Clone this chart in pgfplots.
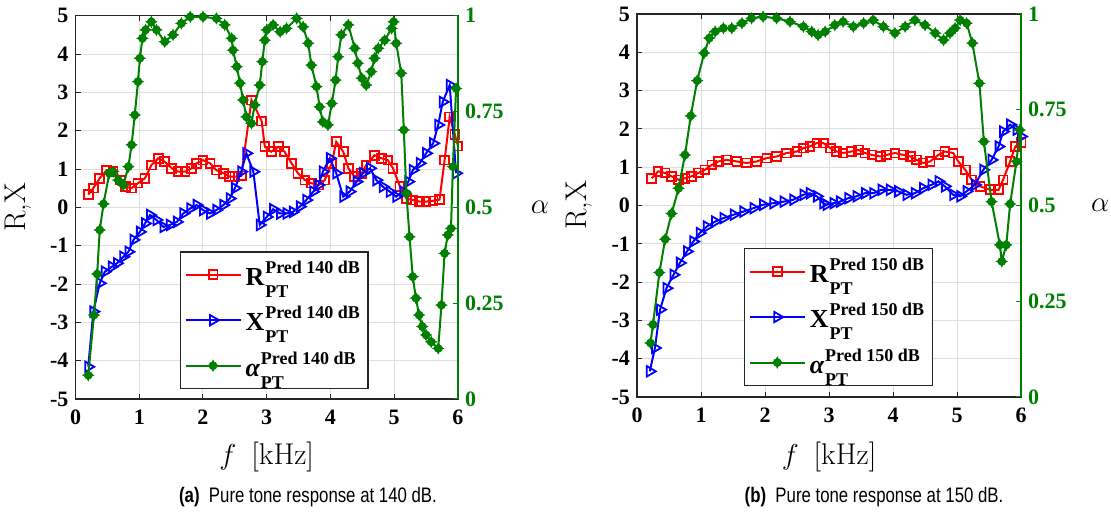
\documentclass[border=0pt]{standalone}
\usepackage{pgfplots}
\usepackage{pgfplotstable}
\pgfplotsset{compat=1.18}
\usepackage{fontspec}
\newfontfamily\tickfont{Liberation Serif}
\newfontfamily\legfont{Liberation Serif}
\newfontfamily\capfont[FakeStretch=0.8]{Liberation Sans}
\definecolor{mgreen}{RGB}{0,128,0}
\definecolor{axgray}{RGB}{38,38,38}
\definecolor{gridgray}{RGB}{222,222,222}

\pgfdeclareplotmark{dstar}{%
  \pgfpathcircle{\pgfpointorigin}{0.72\pgfplotmarksize}%
  \pgfusepathqfillstroke
  \pgfpathmoveto{\pgfqpoint{0pt}{\pgfplotmarksize}}%
  \pgfpathlineto{\pgfqpoint{0.45\pgfplotmarksize}{0pt}}%
  \pgfpathlineto{\pgfqpoint{0pt}{-\pgfplotmarksize}}%
  \pgfpathlineto{\pgfqpoint{-0.45\pgfplotmarksize}{0pt}}%
  \pgfpathclose
  \pgfusepathqfillstroke
  \pgfpathmoveto{\pgfqpoint{\pgfplotmarksize}{0pt}}%
  \pgfpathlineto{\pgfqpoint{0pt}{-0.45\pgfplotmarksize}}%
  \pgfpathlineto{\pgfqpoint{-\pgfplotmarksize}{0pt}}%
  \pgfpathlineto{\pgfqpoint{0pt}{0.45\pgfplotmarksize}}%
  \pgfpathclose
  \pgfusepathqfillstroke
}

\newcommand{\legtxt}[2]{{\fontsize{13}{15}\selectfont {#1}\kern0.5pt\raisebox{-6pt}{\rlap{\fontsize{9}{9}\selectfont PT}}\raisebox{6pt}{\fontsize{9}{9}\selectfont Pred #2 dB}}}
\newcommand{\labfont}{\fontsize{15}{15}\selectfont}

\pgfplotsset{
  Rsty/.style={red, line width=1pt, mark=square, mark size=2.2pt, mark options={solid, line width=0.9pt}},
  Xsty/.style={blue, line width=1pt, mark=triangle, mark size=3pt, mark options={solid, rotate=-90, line width=0.9pt}},
  Asty/.style={mgreen, line width=1pt, mark=dstar, mark size=2.8pt, mark options={solid, line width=0.3pt}},
  common/.style={scale only axis, anchor=south west, xmin=0, xmax=6, clip mode=individual,
    tick label style={font=\tickfont\bfseries\fontsize{11}{11}\selectfont},
    major tick length=2.5pt},
  leftax/.style={common, ymin=-5, ymax=5,
    xtick={0,1,2,3,4,5,6}, xticklabels={0,1,2,3,4,5,6},
    ytick={-5,-4,-3,-2,-1,0,1,2,3,4,5},
    yticklabels={-5,-4,-3,-2,-1,0,1,2,3,4,5},
    ytick pos=left, xtick pos=both,
    xticklabel style={yshift=-2pt},
    grid=major, grid style={gridgray, line width=0.5pt},
    axis line style={axgray, line width=0.6pt},
    tick style={axgray, line width=0.5pt}},
  rightax/.style={common, ymin=0, ymax=1,
    axis y line*=right, axis x line=none,
    ytick={0,0.25,0.5,0.75,1}, yticklabels={0,0.25,0.5,0.75,1},
    y axis line style={mgreen, line width=0.6pt},
    ytick style={mgreen, line width=0.5pt},
    yticklabel style={text=mgreen},
    legend image code/.code={\draw[mark repeat=2,mark phase=2] plot coordinates {(0pt,0pt) (13.75pt,0pt) (27.5pt,0pt)};},
    legend cell align=left,
    legend style={draw=axgray, line width=0.6pt, fill=white, font=\legfont\bfseries,
      inner xsep=2pt, inner ysep=2.5pt, row sep=5pt}},
}

% ---------- data, panel (a) 140 dB ----------
\pgfplotstableread{
f v
0.20 0.33
0.28 0.50
0.38 0.76
0.49 0.97
0.59 0.93
0.70 0.71
0.78 0.54
0.88 0.50
0.98 0.63
1.09 0.76
1.19 1.10
1.30 1.28
1.40 1.19
1.51 1.02
1.61 0.93
1.72 0.93
1.82 1.02
1.90 1.15
2.00 1.23
2.11 1.15
2.21 0.97
2.32 0.89
2.42 0.80
2.50 0.80
2.60 0.82
2.76 2.80
2.92 2.25
2.97 1.58
3.07 1.45
3.18 1.58
3.28 1.45
3.39 1.15
3.49 0.89
3.60 0.71
3.70 0.63
3.81 0.58
3.91 0.71
4.02 1.15
4.09 1.71
4.20 1.45
4.28 1.02
4.38 0.80
4.49 0.89
4.56 1.10
4.69 1.36
4.80 1.28
4.90 1.23
4.98 1.02
5.09 0.54
5.19 0.23
5.29 0.19
5.40 0.15
5.50 0.15
5.61 0.17
5.71 0.20
5.79 1.23
5.87 2.36
5.95 1.90
6.00 1.60
}\tRa

\pgfplotstableread{
f v
0.20 -4.16
0.28 -2.72
0.38 -1.98
0.46 -1.68
0.57 -1.55
0.65 -1.46
0.75 -1.29
0.83 -1.16
0.91 -0.85
1.01 -0.64
1.09 -0.42
1.17 -0.20
1.27 -0.33
1.38 -0.51
1.48 -0.46
1.59 -0.38
1.69 -0.16
1.80 -0.03
1.90 0.06
2.00 -0.07
2.11 -0.16
2.21 -0.07
2.32 0.06
2.42 0.23
2.50 0.50
2.60 0.93
2.68 1.41
2.79 0.93
2.89 -0.46
3.00 -0.25
3.10 -0.05
3.21 -0.16
3.31 -0.16
3.41 -0.12
3.52 0.02
3.62 0.19
3.73 0.41
3.81 0.58
3.88 0.93
3.99 1.28
4.09 0.89
4.20 0.28
4.30 0.41
4.41 0.67
4.51 0.89
4.62 1.02
4.72 0.71
4.82 0.54
4.93 0.41
5.03 0.28
5.14 0.41
5.22 0.67
5.29 0.97
5.40 1.15
5.50 1.41
5.61 1.67
5.69 2.15
5.76 2.75
5.87 3.19
5.97 0.89
}\tXa

\pgfplotstableread{
f v
0.20 0.062
0.29 0.219
0.34 0.326
0.38 0.441
0.44 0.509
0.53 0.589
0.59 0.593
0.67 0.571
0.75 0.558
0.83 0.606
0.88 0.663
0.93 0.741
0.98 0.828
1.01 0.889
1.05 0.941
1.10 0.963
1.19 0.984
1.27 0.963
1.40 0.932
1.53 0.950
1.66 0.980
1.80 0.997
2.00 0.997
2.21 0.993
2.34 0.976
2.45 0.941
2.47 0.910
2.53 0.867
2.58 0.824
2.63 0.780
2.68 0.736
2.76 0.719
2.81 0.767
2.89 0.819
2.93 0.880
2.97 0.936
3.00 0.963
3.10 0.976
3.21 0.958
3.31 0.967
3.47 0.993
3.57 0.971
3.65 0.928
3.70 0.871
3.78 0.815
3.83 0.762
3.88 0.723
3.96 0.715
4.02 0.771
4.08 0.832
4.12 0.893
4.17 0.950
4.28 0.976
4.38 0.915
4.43 0.876
4.49 0.837
4.56 0.819
4.64 0.854
4.69 0.889
4.75 0.915
4.85 0.936
4.96 0.967
4.99 0.984
5.03 0.928
5.11 0.850
5.15 0.702
5.19 0.537
5.24 0.423
5.29 0.319
5.34 0.263
5.39 0.219
5.44 0.189
5.50 0.167
5.58 0.149
5.69 0.132
5.74 0.245
5.79 0.380
5.84 0.428
5.89 0.445
5.92 0.606
5.97 0.810
}\tAa

% ---------- data, panel (b) 150 dB ----------
\pgfplotstableread{
f v
0.23 0.71
0.33 0.89
0.44 0.85
0.54 0.76
0.65 0.67
0.75 0.71
0.85 0.76
0.96 0.85
1.06 0.93
1.17 1.06
1.27 1.15
1.40 1.19
1.56 1.15
1.71 1.11
1.87 1.15
2.03 1.24
2.18 1.28
2.34 1.37
2.50 1.41
2.60 1.50
2.70 1.54
2.81 1.63
2.91 1.63
3.02 1.50
3.12 1.41
3.22 1.37
3.35 1.41
3.46 1.45
3.56 1.37
3.67 1.32
3.80 1.28
3.90 1.32
4.03 1.37
4.16 1.32
4.27 1.28
4.37 1.19
4.47 1.11
4.58 1.15
4.71 1.32
4.81 1.41
4.94 1.37
5.02 1.15
5.13 0.93
5.23 0.67
5.36 0.50
5.52 0.41
5.65 0.41
5.72 0.67
5.83 1.15
5.91 1.54
6.00 1.65
}\tRb

\pgfplotstableread{
f v
0.20 -4.33
0.28 -3.72
0.36 -2.72
0.46 -2.16
0.57 -1.81
0.67 -1.50
0.78 -1.20
0.88 -0.94
0.98 -0.72
1.09 -0.55
1.22 -0.42
1.35 -0.33
1.51 -0.24
1.66 -0.16
1.82 -0.07
1.97 0.02
2.13 0.06
2.29 0.10
2.44 0.15
2.60 0.28
2.70 0.32
2.81 0.24
2.91 0.06
2.96 0.02
3.07 0.06
3.17 0.10
3.30 0.19
3.43 0.24
3.56 0.32
3.69 0.32
3.82 0.41
3.95 0.41
4.08 0.37
4.21 0.28
4.34 0.32
4.47 0.45
4.60 0.54
4.71 0.63
4.81 0.50
4.94 0.28
5.05 0.24
5.15 0.37
5.28 0.54
5.41 0.93
5.54 1.19
5.65 1.54
5.72 1.93
5.83 2.11
5.93 1.98
6.00 1.80
}\tXb

\pgfplotstableread{
f v
0.21 0.141
0.25 0.189
0.35 0.325
0.44 0.412
0.54 0.479
0.65 0.545
0.75 0.632
0.84 0.734
0.94 0.826
1.05 0.898
1.13 0.937
1.22 0.954
1.35 0.963
1.48 0.963
1.64 0.976
1.79 0.989
1.97 0.993
2.18 0.989
2.39 0.980
2.60 0.967
2.73 0.954
2.83 0.945
2.94 0.954
3.09 0.971
3.22 0.980
3.38 0.967
3.54 0.976
3.69 0.984
3.85 0.967
4.03 0.950
4.19 0.967
4.34 0.984
4.50 0.971
4.66 0.950
4.79 0.932
4.89 0.950
4.97 0.963
5.05 0.984
5.15 0.976
5.24 0.924
5.35 0.819
5.42 0.667
5.54 0.510
5.67 0.397
5.70 0.354
5.77 0.397
5.83 0.504
5.93 0.615
5.98 0.697
}\tAb

\begin{document}
\begin{tikzpicture}
\path[use as bounding box] (0,0) rectangle (555.5pt,258.5pt);

% ================= panel (a) =================
\begin{axis}[leftax, at={(37.75pt,59pt)}, width=191.25pt, height=191.65pt]
  \addplot[Rsty] table[x=f,y=v] {\tRa};
  \addplot[Xsty] table[x=f,y=v] {\tXa};
  \node[rotate=90, font=\labfont] at (axis description cs:-0.150,0.5) {R,X};
  \node[font=\labfont] at (axis description cs:0.5,-0.151) {$f$\enspace[kHz]};
\end{axis}
\begin{axis}[rightax, at={(37.75pt,59pt)}, width=191.25pt, height=191.65pt,
    legend style={at={(0.273,0.026)}, anchor=south west}]
  \addlegendimage{Rsty}
  \addlegendentry{\legtxt{R}{140}}
  \addlegendimage{Xsty}
  \addlegendentry{\legtxt{X}{140}}
  \addplot[Asty] table[x=f,y=v] {\tAa};
  \addlegendentry{\legtxt{\itshape α}{140}}
  \node[font=\labfont] at (axis description cs:1.214,0.5) {$\alpha$};
\end{axis}

% ================= panel (b) =================
\begin{axis}[leftax, at={(318.5pt,60pt)}, width=192pt, height=191.5pt]
  \addplot[Rsty] table[x=f,y=v] {\tRb};
  \addplot[Xsty] table[x=f,y=v] {\tXb};
  \node[rotate=90, font=\labfont] at (axis description cs:-0.150,0.5) {R,X};
  \node[font=\labfont] at (axis description cs:0.5,-0.157) {$f$\enspace[kHz]};
\end{axis}
\begin{axis}[rightax, at={(318.5pt,60pt)}, width=192pt, height=191.5pt,
    legend style={at={(0.279,0.029)}, anchor=south west}]
  \addlegendimage{Rsty}
  \addlegendentry{\legtxt{R}{150}}
  \addlegendimage{Xsty}
  \addlegendentry{\legtxt{X}{150}}
  \addplot[Asty] table[x=f,y=v] {\tAb};
  \addlegendentry{\legtxt{\itshape α}{150}}
  \node[font=\labfont] at (axis description cs:1.206,0.5) {$\alpha$};
\end{axis}

% captions
\node[font=\capfont\fontsize{10.5}{11}\selectfont] at (154pt,10pt) {\textbf{(a)}\ \ Pure tone response at 140 dB.};
\node[font=\capfont\fontsize{10.5}{11}\selectfont] at (437pt,10pt) {\textbf{(b)}\ \ Pure tone response at 150 dB.};
\end{tikzpicture}
\end{document}
